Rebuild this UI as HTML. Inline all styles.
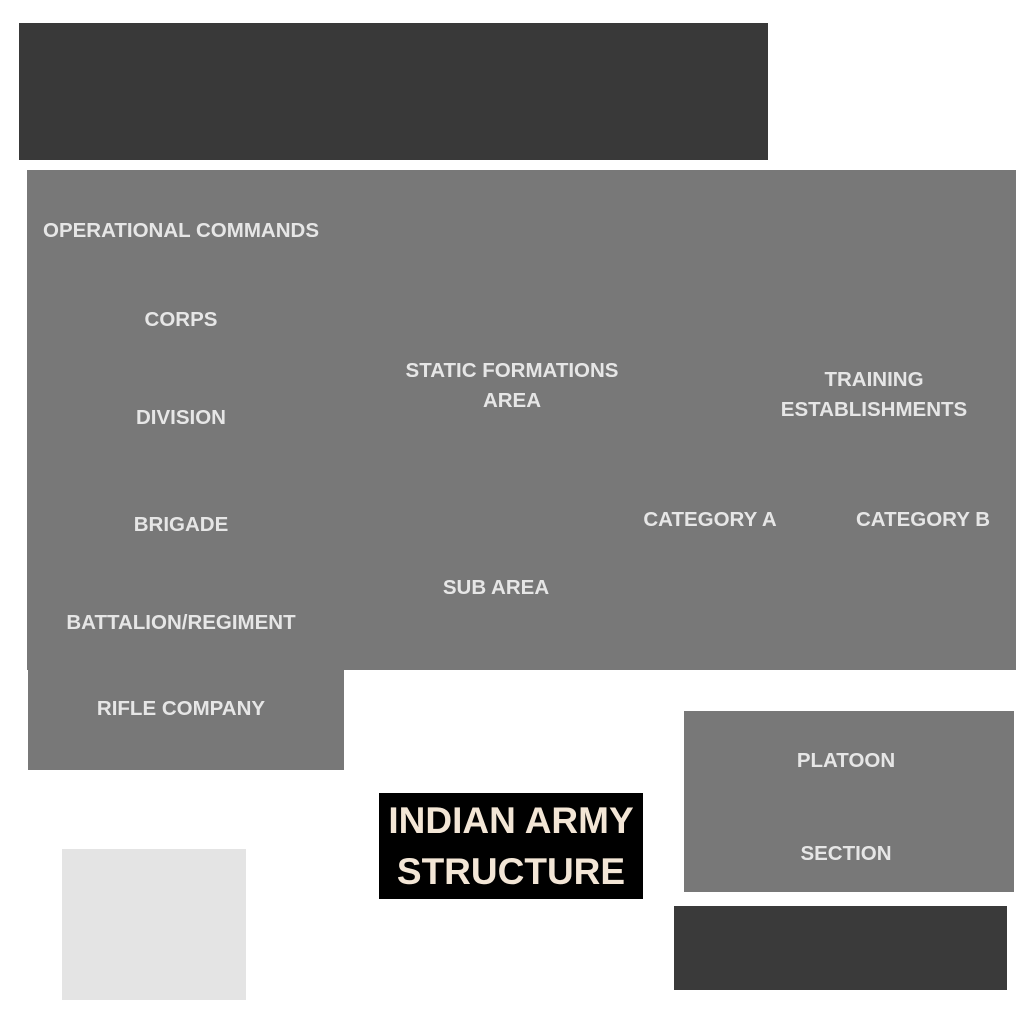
<!DOCTYPE html>
<html><head><meta charset="utf-8"><style>
body{margin:0;width:1024px;height:1024px;background:#fff;position:relative;overflow:hidden;font-family:"Liberation Sans",sans-serif}
div{position:absolute}
.t{color:#e6e6e6;font-weight:bold;font-size:20.5px;text-align:center;white-space:nowrap;line-height:30px}
</style></head><body>
<div style="left:19px;top:23px;width:749px;height:137px;background:#393939"></div>
<div style="left:27px;top:170px;width:989px;height:500px;background:#787878"></div>
<div style="left:28px;top:670px;width:316px;height:100px;background:#787878"></div>
<div style="left:684px;top:711px;width:330px;height:181px;background:#787878"></div>
<div style="left:674px;top:906px;width:333px;height:84px;background:#3a3a3a"></div>
<div style="left:62px;top:849px;width:184px;height:151px;background:#e4e4e4"></div>
<div style="left:379px;top:793px;width:264px;height:106px;background:#000"></div>
<div style="left:379px;top:795px;width:264px;text-align:center;color:#f3e6d6;font-weight:bold;font-size:37px;line-height:51px">INDIAN ARMY<br>STRUCTURE</div>
<div class="t" style="left:31px;top:216px;width:300px">OPERATIONAL COMMANDS</div>
<div class="t" style="left:31px;top:305px;width:300px">CORPS</div>
<div class="t" style="left:31px;top:403px;width:300px">DIVISION</div>
<div class="t" style="left:31px;top:510px;width:300px">BRIGADE</div>
<div class="t" style="left:31px;top:608px;width:300px">BATTALION/REGIMENT</div>
<div class="t" style="left:31px;top:694px;width:300px">RIFLE COMPANY</div>
<div class="t" style="left:362px;top:356px;width:300px">STATIC FORMATIONS<br>AREA</div>
<div class="t" style="left:724px;top:365px;width:300px">TRAINING<br>ESTABLISHMENTS</div>
<div class="t" style="left:610px;top:505px;width:200px">CATEGORY A</div>
<div class="t" style="left:823px;top:505px;width:200px">CATEGORY B</div>
<div class="t" style="left:396px;top:573px;width:200px">SUB AREA</div>
<div class="t" style="left:746px;top:746px;width:200px">PLATOON</div>
<div class="t" style="left:746px;top:839px;width:200px">SECTION</div>
</body></html>
